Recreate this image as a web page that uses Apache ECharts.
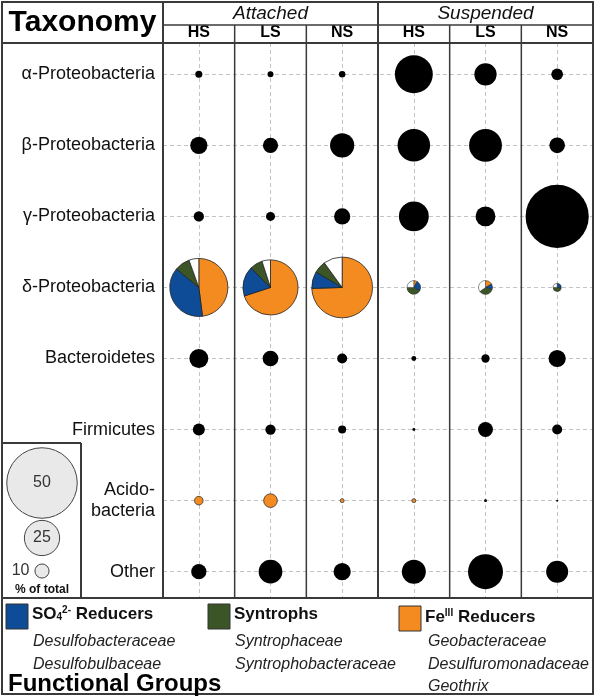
<!DOCTYPE html>
<html><head><meta charset="utf-8">
<script src="https://cdn.jsdelivr.net/npm/echarts@6/dist/echarts.min.js"></script>
<style>html,body{margin:0;padding:0;background:#fff}#c{width:600px;height:696px}</style>
</head><body><div id="c"></div>
<script>
// ---------------- data ----------------
const taxa = ['α-Proteobacteria','β-Proteobacteria','γ-Proteobacteria','δ-Proteobacteria','Bacteroidetes','Firmicutes','Acido-\nbacteria','Other'];
const groups = ['Attached','Suspended'];
const sites = ['HS','LS','NS'];
// % of total, per column, in taxa order
const attHS = [5.0, 12.2, 7.3, 41.2, 13.4, 8.5, 6.1, 10.8];
const attLS = [4.2, 10.8, 6.4, 39.1, 11.1, 7.3, 9.7, 16.8];
const attNS = [4.6, 17.2, 11.5, 43.1, 7.1, 5.7, 2.8, 12.2];
const susHS = [26.9, 23.1, 21.2, 9.7, 3.5, 2.1, 2.8, 17.0];
const susLS = [15.8, 23.3, 14.1, 9.9, 5.9, 10.6, 2.1, 24.8];
const susNS = [8.3, 11.1, 44.8, 5.7, 12.2, 7.1, 1.4, 15.6];
// δ-Proteobacteria split by functional group (% of the δ bubble), per column
const feReducers  = [48, 70, 74.5, 8, 17, 3];
const so4Reducers = [38, 17.5, 9, 25, 13, 25];
const syntrophs   = [8.5, 7.5, 6.5, 42, 35, 47];
const unassigned  = [5.5, 5, 10, 25, 35, 25];
// Acidobacteria bubbles that are Fe(III) reducers (Geothrix)
const acidoIsFe = [true, true, true, true, false, false];
const legendSizes = [50, 25, 10];
const fgNames = ['{b|SO}{sub|4}{sup|2-}{b| Reducers}', '{b|Syntrophs}', '{b|Fe}{sup|III}{b| Reducers}'];
const fgFamilies = [['Desulfobacteraceae','Desulfobulbaceae'],['Syntrophaceae','Syntrophobacteraceae'],['Geobacteraceae','Desulfuromonadaceae','Geothrix']];

// ---------------- style ----------------
const FONT = 'Liberation Sans, Arial, Helvetica, sans-serif';
const C_SO4 = '#0e4c97', C_SYN = '#3c5526', C_FE = '#f48b20', C_UN = '#ffffff';
const fgColors = [C_SO4, C_SYN, C_FE];
const LINE = '#3a3a3a';
const sizeOf = v => v * 1.41;

const L = 163, R = 593, T = 43, B = 598, TOP = 2, LEFT = 2, BOT = 694, HMID = 25;
const colW = (R - L) / 6;

const columns = groups.flatMap(g => sites.map(s => g + ' ' + s));
const colData = [attHS, attLS, attNS, susHS, susLS, susNS];
const deltaIdx = 3, acidoIdx = 6;

const bubbles = [];
const pies = [];
colData.forEach((arr, ci) => arr.forEach((v, ri) => {
  if (ri === deltaIdx) {
    pies.push([ci, ri, v, feReducers[ci], so4Reducers[ci], syntrophs[ci], unassigned[ci]]);
    return;
  }
  const fe = ri === acidoIdx && acidoIsFe[ci];
  bubbles.push({ value: [ci, ri, v], itemStyle: fe ? { color: C_FE, borderColor: '#333', borderWidth: 0.8, opacity: 1 } : { color: '#000', opacity: 1 } });
}));

// ---------------- graphics (table frame + functional-group legend) ----------------
const g = [];
const ln = (x1, y1, x2, y2, w) => g.push({ type: 'line', silent: true, z: 50, shape: { x1, y1, x2, y2 }, style: { stroke: LINE, lineWidth: w } });
g.push({ type: 'rect', silent: true, z: 50, shape: { x: LEFT, y: TOP, width: R - LEFT, height: BOT - TOP }, style: { fill: 'none', stroke: LINE, lineWidth: 2 } });
ln(LEFT, T, R, T, 2);
ln(L, HMID, R, HMID, 1.5);
ln(L, TOP, L, B, 2);
ln(L + 3 * colW, TOP, L + 3 * colW, B, 2);
[1, 2, 4, 5].forEach(i => ln(L + i * colW, HMID, L + i * colW, B, 1.5));
ln(LEFT, B, R, B, 2);
// size-legend box
ln(LEFT, 443, 81, 443, 2);
ln(81, 443, 81, B, 2);
g.push({ type: 'text', silent: true, z: 60, style: { text: '% of total', x: 42, y: 590, textAlign: 'center', textVerticalAlign: 'middle', font: 'bold 12px ' + FONT, fill: '#111' } });
// header title
g.push({ type: 'text', silent: true, z: 60, style: { text: 'Taxonomy', x: (LEFT + L) / 2, y: 23, textAlign: 'center', textVerticalAlign: 'middle', font: 'bold 30px ' + FONT, fill: '#000' } });

const sqX = [6, 208, 399], famX = [33, 235, 428];
fgNames.forEach((nm, i) => {
  g.push({ type: 'rect', silent: true, z: 60, shape: { x: sqX[i], y: 604 + (i === 2 ? 2 : 0), width: 22, height: 25 }, style: { fill: fgColors[i], stroke: '#333', lineWidth: 1 } });
  g.push({ type: 'text', silent: true, z: 60, style: {
    text: nm, x: sqX[i] + 26, y: 614 + (i === 2 ? 3 : 0), textVerticalAlign: 'middle', fill: '#111',
    rich: {
      b: { fontFamily: FONT, fontWeight: 'bold', fontSize: 17, fill: '#111' },
      sub: { fontFamily: FONT, fontWeight: 'bold', fontSize: 10, fill: '#111', verticalAlign: 'bottom', padding: [6, 0, 0, 0] },
      sup: { fontFamily: FONT, fontWeight: 'bold', fontSize: 10, fill: '#111', verticalAlign: 'top', padding: [0, 0, 6, 0] }
    }
  } });
  fgFamilies[i].forEach((f, k) => g.push({ type: 'text', silent: true, z: 60, style: { text: f, x: famX[i], y: 642 + k * 22.5, textVerticalAlign: 'middle', font: 'italic 16px ' + FONT, fill: '#222' } }));
});
g.push({ type: 'text', silent: true, z: 60, style: { text: 'Functional Groups', x: 8, y: 684, textVerticalAlign: 'middle', font: 'bold 24px ' + FONT, fill: '#000' } });

// ---------------- chart ----------------
const chart = echarts.init(document.getElementById('c'), null, { renderer: 'canvas' });
const yMin = -0.44, yMax = 7.37;
chart.setOption({
  animation: false,
  backgroundColor: '#fff',
  textStyle: { fontFamily: FONT },
  grid: [
    { left: L, top: T, width: R - L, height: B - T },
    { left: LEFT, top: 38.8, width: L - LEFT, height: 568.4 },
    { left: LEFT, top: 461, width: 80, height: 132 }
  ],
  xAxis: [
    { gridIndex: 0, type: 'category', data: columns, position: 'top', boundaryGap: true,
      axisLine: { show: false }, axisTick: { show: false }, splitLine: { show: false },
      axisLabel: { interval: 0, margin: 2, fontSize: 16, fontWeight: 'bold', color: '#000', formatter: v => v.split(' ')[1] } },
    { gridIndex: 1, type: 'value', show: false },
    { gridIndex: 2, type: 'value', min: 0, max: 1, show: false },
    { gridIndex: 0, type: 'category', data: groups, position: 'top', offset: 18, boundaryGap: true,
      axisLine: { show: false }, axisTick: { show: false }, splitLine: { show: false },
      axisLabel: { interval: 0, margin: 2, fontSize: 19, fontStyle: 'italic', color: '#111' } }
  ],
  yAxis: [
    { gridIndex: 0, type: 'value', min: yMin, max: yMax, inverse: true, show: false, splitLine: { show: false } },
    { gridIndex: 1, type: 'category', data: taxa, inverse: true, position: 'right',
      axisLine: { show: false }, axisTick: { show: false }, splitLine: { show: false },
      axisLabel: { inside: true, margin: 8, fontSize: 18, lineHeight: 21, color: '#111', interval: 0 } },
    { gridIndex: 2, type: 'value', min: 0, max: 60, show: false }
  ],
  series: [
    { type: 'scatter', xAxisIndex: 0, yAxisIndex: 0, data: [], z: 1, silent: true,
      markLine: { silent: true, symbol: ['none', 'none'], label: { show: false }, z: 1,
        lineStyle: { type: [4, 3], color: '#c4c4c4', width: 1 },
        data: columns.map(c => ({ xAxis: c })).concat(taxa.map((t, j) => ({ yAxis: j }))) } },
    { type: 'scatter', xAxisIndex: 0, yAxisIndex: 0, z: 3, clip: false, silent: true,
      itemStyle: { opacity: 1 },
      symbolSize: val => sizeOf(val[2]), data: bubbles },
    { type: 'custom', xAxisIndex: 0, yAxisIndex: 0, z: 4, clip: false, silent: true, data: pies,
      renderItem: (params, api) => {
        const c = api.coord([api.value(0), api.value(1)]);
        const r = sizeOf(api.value(2)) / 2;
        const parts = [api.value(3), api.value(4), api.value(5), api.value(6)];
        const cols = [C_FE, C_SO4, C_SYN, C_UN];
        const tot = parts.reduce((a, b) => a + b, 0);
        let a = -Math.PI / 2;
        const children = parts.map((p, i) => {
          const s = a, e = a + p / tot * Math.PI * 2; a = e;
          return { type: 'sector', shape: { cx: c[0], cy: c[1], r, r0: 0, startAngle: s, endAngle: e, clockwise: true },
            style: { fill: cols[i], stroke: '#222', lineWidth: r > 15 ? 0.8 : 0.5 } };
        });
        return { type: 'group', children };
      } },
    { type: 'scatter', xAxisIndex: 2, yAxisIndex: 2, z: 3, clip: false, silent: true,
      data: legendSizes.map(v => ({ value: [0.5, v], label: v < 15 ? { position: 'left', distance: 5 } : { position: 'inside' } })),
      symbolSize: val => sizeOf(val[1]),
      itemStyle: { color: '#e9e9e9', borderColor: '#444', borderWidth: 1, opacity: 1 },
      label: { show: true, formatter: p => String(p.value[1]), fontSize: 16, color: '#333' } }
  ],
  graphic: g
});
</script></body></html>
